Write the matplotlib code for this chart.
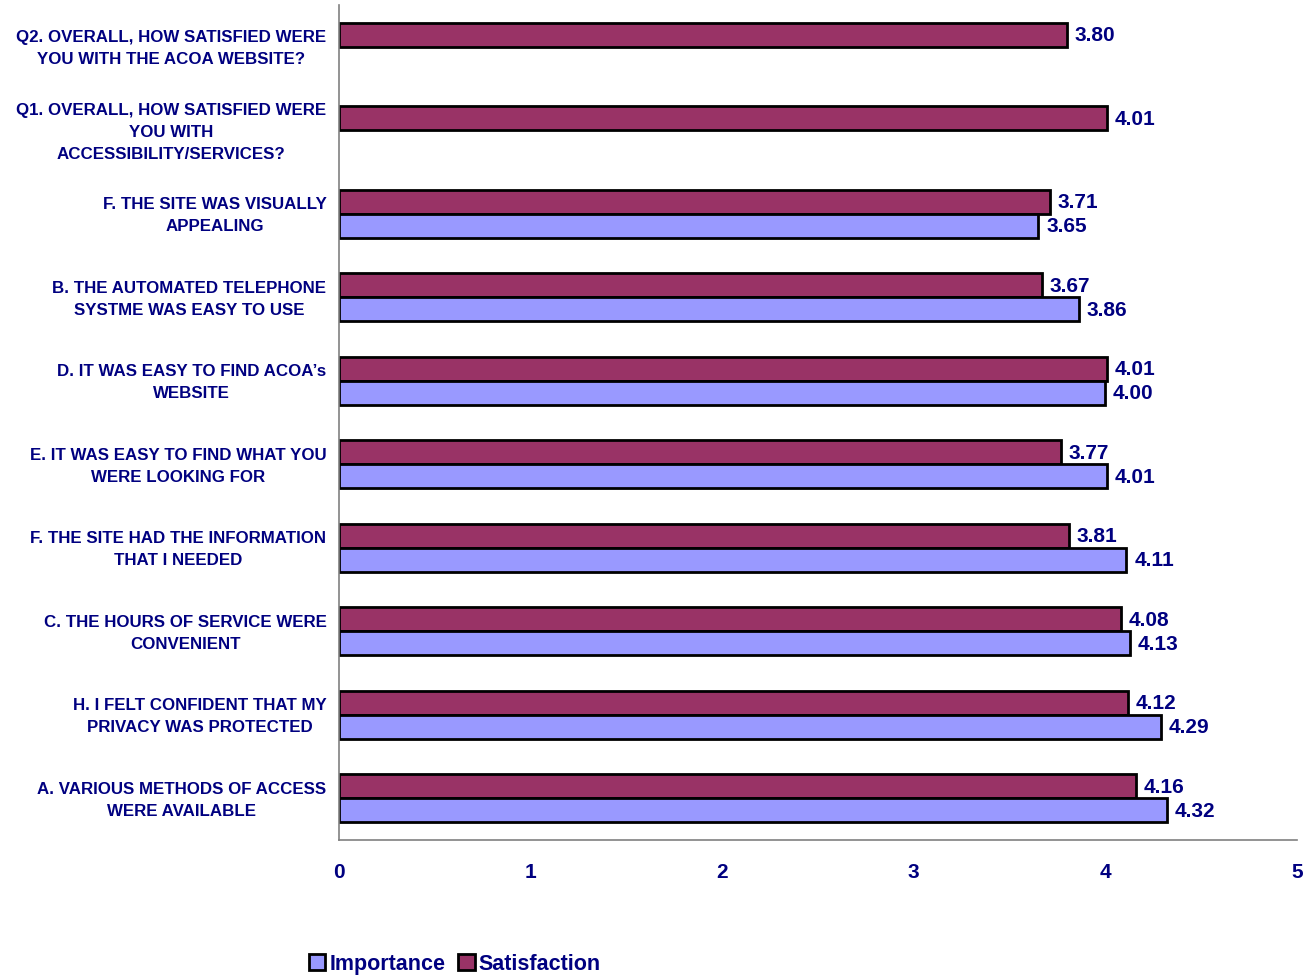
import numpy as np
import matplotlib.pyplot as plt
from matplotlib.patches import Patch
from matplotlib.transforms import ScaledTranslation

# categories, top to bottom
categories = [
    "Q2. OVERALL, HOW SATISFIED WERE\nYOU WITH THE ACOA WEBSITE?",
    "Q1. OVERALL, HOW SATISFIED WERE\nYOU WITH\nACCESSIBILITY/SERVICES?",
    "F. THE SITE WAS VISUALLY\nAPPEALING",
    "B. THE AUTOMATED TELEPHONE\nSYSTME WAS EASY TO USE",
    "D. IT WAS EASY TO FIND ACOA\u2019s\nWEBSITE",
    "E. IT WAS EASY TO FIND WHAT YOU\nWERE LOOKING FOR",
    "F. THE SITE HAD THE INFORMATION\nTHAT I NEEDED",
    "C. THE HOURS OF SERVICE WERE\nCONVENIENT",
    "H. I FELT CONFIDENT THAT MY\nPRIVACY WAS PROTECTED",
    "A. VARIOUS METHODS OF ACCESS\nWERE AVAILABLE",
]
importance = [None, None, 3.65, 3.86, 4.00, 4.01, 4.11, 4.13, 4.29, 4.32]
satisfaction = [3.80, 4.01, 3.71, 3.67, 4.01, 3.77, 3.81, 4.08, 4.12, 4.16]
xticks = [0, 1, 2, 3, 4, 5]

navy = "#000080"
imp_color = "#9999FF"
sat_color = "#993366"

plt.rcParams['font.family'] = ['Liberation Sans', 'DejaVu Sans']

fig = plt.figure(figsize=(13.13, 9.79), dpi=100)
ax = fig.add_axes([339 / 1313, 1 - 841 / 979, (1297 - 339) / 1313, 835 / 979])

y = np.arange(len(categories))
h = 0.288

for i in range(len(categories)):
    s = satisfaction[i]
    ax.barh(y[i] - h / 2, s, height=h, color=sat_color, edgecolor='black', linewidth=2)
    ax.text(s + 0.04, y[i] - h / 2, f"{s:.2f}", va='center', ha='left',
            fontsize=15, fontweight='bold', color=navy)
    v = importance[i]
    if v is not None:
        ax.barh(y[i] + h / 2, v, height=h, color=imp_color, edgecolor='black', linewidth=2)
        ax.text(v + 0.04, y[i] + h / 2, f"{v:.2f}", va='center', ha='left',
                fontsize=15, fontweight='bold', color=navy)

ax.set_ylim(9.5, -0.5)
ax.set_xlim(0, 5)
ax.set_xticks(xticks)
ax.set_xticklabels([str(t) for t in xticks], fontsize=15, fontweight='bold', color=navy)
ax.set_yticks(y)
ax.set_yticklabels(categories, fontsize=12.2, fontweight='bold', color=navy,
                   multialignment='center', linespacing=1.6)
ax.tick_params(axis='x', length=0, pad=16)
ax.tick_params(axis='y', length=0, pad=9)

# nudge category labels up a little
shift = ScaledTranslation(0, 4 / 100, fig.dpi_scale_trans)
for lbl in ax.get_yticklabels():
    lbl.set_transform(lbl.get_transform() + shift)

for side in ['top', 'right']:
    ax.spines[side].set_visible(False)
for side in ['left', 'bottom']:
    ax.spines[side].set_color('#808080')
    ax.spines[side].set_linewidth(1.2)

# legend
handles = [Patch(facecolor=imp_color, edgecolor='black', linewidth=2, label='Importance'),
           Patch(facecolor=sat_color, edgecolor='black', linewidth=2, label='Satisfaction')]
leg = fig.legend(handles=handles, loc='center', bbox_to_anchor=(455 / 1313, 1 - 965 / 979),
                 ncol=2, frameon=False, handlelength=0.75, handleheight=0.75,
                 handletextpad=0.2, columnspacing=0.6,
                 prop={'size': 15.5, 'weight': 'bold'})
for t in leg.get_texts():
    t.set_color(navy)

fig.savefig("out.png", dpi=100)
